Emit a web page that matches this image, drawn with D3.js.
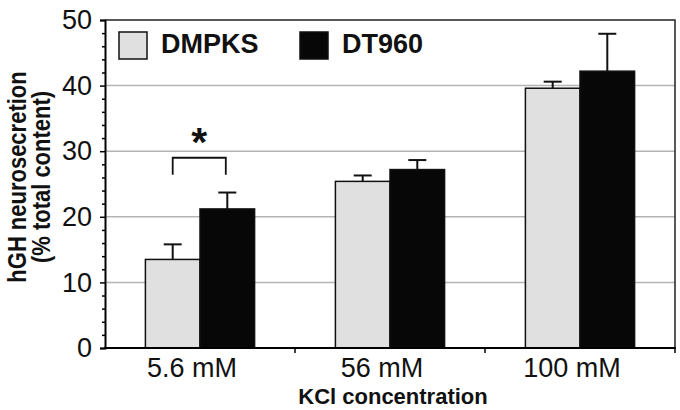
<!DOCTYPE html>
<html>
<head>
<meta charset="utf-8">
<script src="https://cdn.jsdelivr.net/npm/d3@7"></script>
<style>
  html, body { margin: 0; padding: 0; background: #fff; }
  svg { display: block; font-family: "Liberation Sans", Arial, Helvetica, sans-serif; }
</style>
</head>
<body>
<svg id="chart" width="680" height="410"></svg>
<script>
// ---- Data ----
const categories = ["5.6 mM", "56 mM", "100 mM"];
const seriesNames = ["DMPKS", "DT960"];
const dmpksValues = [13.5, 25.4, 39.6];
const dmpksErrors = [2.3, 0.9, 1.0];
const dt960Values = [21.2, 27.2, 42.2];
const dt960Errors = [2.5, 1.45, 5.7];
const yTicks = [0, 10, 20, 30, 40, 50];
const yMinorTicks = [2, 4, 6, 8, 12, 14, 16, 18, 22, 24, 26, 28, 32, 34, 36, 38, 42, 44, 46, 48];
const gridTicks = [10, 20, 30, 40];
const sigCategory = "5.6 mM";
const sigBracket = { top: 29.0, bottom: 26.4 };
const yTitleLines = ["hGH neurosecretion", "(% total content)"];
const xTitle = "KCl concentration";

const fills = { "DMPKS": "#e0e0e0", "DT960": "#070707" };

const data = categories.map((c, i) => ({
  category: c,
  values: [
    { series: "DMPKS", value: dmpksValues[i], err: dmpksErrors[i] },
    { series: "DT960", value: dt960Values[i], err: dt960Errors[i] }
  ]
}));

// ---- Layout ----
const W = 680, H = 410;
const margin = { left: 105, right: 5, top: 20, bottom: 62 };
const svg = d3.select("#chart");

const x = d3.scaleBand().domain(categories)
  .range([margin.left, W - margin.right]).paddingInner(0).paddingOuter(0);
const xs = d3.scaleBand().domain(seriesNames)
  .range([0, x.bandwidth()]).paddingInner(0).paddingOuter(0.74);
const y = d3.scaleLinear().domain([0, 50]).range([H - margin.bottom, margin.top]);

const x0 = margin.left, x1 = W - margin.right, yb = y(0), yt = y(50);

// Gridlines
svg.append("g").selectAll("line").data(gridTicks).join("line")
  .attr("x1", x0).attr("x2", x1)
  .attr("y1", d => y(d)).attr("y2", d => y(d))
  .attr("stroke", "#b4b4b4").attr("stroke-width", 1.5);

// Bars
const groups = svg.append("g").selectAll("g").data(data).join("g")
  .attr("transform", d => `translate(${x(d.category)},0)`);

groups.selectAll("rect").data(d => d.values).join("rect")
  .attr("x", d => xs(d.series))
  .attr("width", xs.bandwidth())
  .attr("y", d => y(d.value))
  .attr("height", d => y(0) - y(d.value))
  .attr("fill", d => fills[d.series])
  .attr("stroke", "#111").attr("stroke-width", 1.5);

// Error bars (upper only)
const capW = 18;
const eb = groups.selectAll("g.eb").data(d => d.values).join("g").attr("class", "eb");
eb.append("line")
  .attr("x1", d => xs(d.series) + xs.bandwidth() / 2)
  .attr("x2", d => xs(d.series) + xs.bandwidth() / 2)
  .attr("y1", d => y(d.value))
  .attr("y2", d => y(d.value + d.err))
  .attr("stroke", "#111").attr("stroke-width", 2);
eb.append("line")
  .attr("x1", d => xs(d.series) + xs.bandwidth() / 2 - capW / 2)
  .attr("x2", d => xs(d.series) + xs.bandwidth() / 2 + capW / 2)
  .attr("y1", d => y(d.value + d.err))
  .attr("y2", d => y(d.value + d.err))
  .attr("stroke", "#111").attr("stroke-width", 2);

// Significance bracket + star
const bx1 = x(sigCategory) + xs("DMPKS") + xs.bandwidth() / 2;
const bx2 = x(sigCategory) + xs("DT960") + xs.bandwidth() / 2 - 1.5;
svg.append("path")
  .attr("d", `M${bx1},${y(sigBracket.bottom)}V${y(sigBracket.top)}H${bx2}V${y(sigBracket.bottom)}`)
  .attr("fill", "none").attr("stroke", "#111").attr("stroke-width", 1.8);
svg.append("text")
  .attr("x", (bx1 + bx2) / 2).attr("y", y(sigBracket.top) - 2)
  .attr("text-anchor", "middle")
  .attr("font-size", 41).attr("font-weight", "bold").attr("fill", "#111")
  .text("*");

// Frame (top & right)
svg.append("path")
  .attr("d", `M${x0},${yt}H${x1}V${yb}`)
  .attr("fill", "none").attr("stroke", "#222").attr("stroke-width", 1.5);

// Y axis
const yAxis = d3.axisLeft(y).tickValues(yTicks).tickSize(5).tickPadding(8).tickFormat(d3.format("d"));
const gy = svg.append("g").attr("transform", `translate(${x0},0)`).call(yAxis);
gy.select(".domain").attr("stroke", "#000").attr("stroke-width", 2);
gy.selectAll(".tick line").attr("stroke", "#000").attr("stroke-width", 1.5);
gy.selectAll(".tick text").attr("font-size", 27).attr("fill", "#111")
  .attr("font-family", "'Liberation Sans', Arial, sans-serif");
const yMinor = d3.axisLeft(y).tickValues(yMinorTicks).tickSize(3).tickFormat("");
const gym = svg.append("g").attr("transform", `translate(${x0},0)`).call(yMinor);
gym.select(".domain").remove();
gym.selectAll(".tick line").attr("stroke", "#000").attr("stroke-width", 1.5);

// X axis
svg.append("line").attr("x1", x0 - 1).attr("x2", x1 + 0.75).attr("y1", yb).attr("y2", yb)
  .attr("stroke", "#000").attr("stroke-width", 2);
svg.append("g").selectAll("line").data(categories).join("line")
  .attr("x1", d => x(d) + x.bandwidth()).attr("x2", d => x(d) + x.bandwidth())
  .attr("y1", yb).attr("y2", yb + 5)
  .attr("stroke", "#000").attr("stroke-width", 1.5);
svg.append("g").selectAll("text").data(categories).join("text")
  .attr("x", d => x(d) + x.bandwidth() / 2 - 8)
  .attr("y", yb + 29)
  .attr("text-anchor", "middle")
  .attr("font-size", 27).attr("fill", "#111")
  .text(d => d);

// Axis titles
svg.append("text")
  .attr("x", (x0 + x1) / 2 + 3).attr("y", 404)
  .attr("text-anchor", "middle")
  .attr("font-size", 22).attr("font-weight", "bold").attr("fill", "#111")
  .text(xTitle);

const yTitle = svg.append("text")
  .attr("transform", `translate(0,177) scale(1.15,1) rotate(-90)`)
  .attr("text-anchor", "middle")
  .attr("font-size", 22).attr("font-weight", "bold").attr("fill", "#111");
yTitle.selectAll("tspan").data(yTitleLines).join("tspan")
  .attr("x", 0).attr("y", (d, i) => 22.8 + i * 20.8)
  .text(d => d);

// Legend
const legendX = [119, 300];
const leg = svg.append("g").selectAll("g").data(seriesNames).join("g")
  .attr("transform", (d, i) => `translate(${legendX[i]},32)`);
leg.append("rect").attr("width", 28).attr("height", 27)
  .attr("fill", d => fills[d]).attr("stroke", "#111").attr("stroke-width", 1.5);
leg.append("text").attr("x", 42).attr("y", 21)
  .attr("font-size", 27).attr("font-weight", "bold").attr("fill", "#111")
  .text(d => d);
</script>
</body>
</html>
